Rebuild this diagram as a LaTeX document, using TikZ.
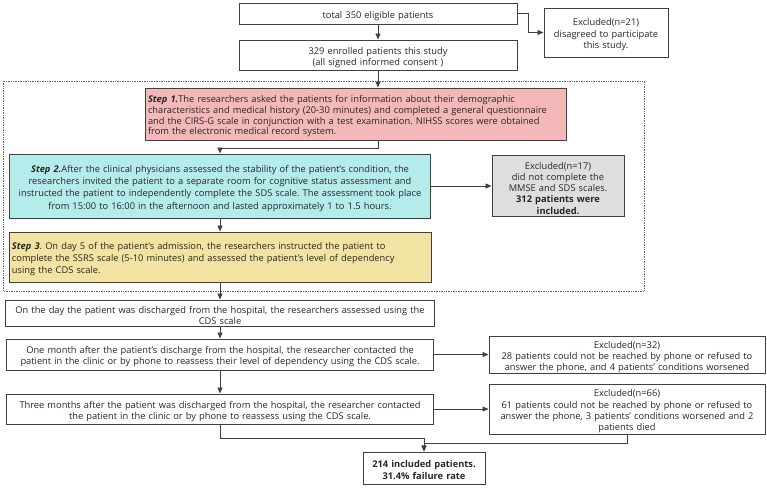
\documentclass[tikz,border=0pt]{standalone}
\usepackage{fontspec}
\setmainfont{Open Sans}
\usetikzlibrary{arrows.meta,positioning}
\definecolor{bordc}{RGB}{64,64,64}
\definecolor{pinkc}{RGB}{244,184,184}
\definecolor{cyanc}{RGB}{180,236,236}
\definecolor{yellc}{RGB}{242,227,162}
\definecolor{greyc}{RGB}{222,222,222}
\frenchspacing
\tikzset{
  bx/.style n args={2}{draw=bordc, line width=1pt, rectangle, inner xsep=3pt, inner ysep=0pt,
     text width=#1-6pt, minimum height=#2, align=center,
     font=\fontsize{9.3}{11.2}\selectfont, text=black!85,
     execute at begin node={\rule{0pt}{11.5pt}}},
  lbx/.style={align=left},
  conn/.style={draw=bordc, line width=0.9pt, -{Triangle[length=6pt,width=5pt]}},
}
\begin{document}
\begin{tikzpicture}[x=1pt,y=-1pt]
\useasboundingbox (0,0) rectangle (767,488);
% dotted frame
\draw[bordc!80, line width=0.7pt, densely dotted] (3,81) rectangle (644,291);
% nodes
\node[bx={278pt}{21pt}] (b1) at (378,13.5) {total 350 eligible patients};
\node[bx={278pt}{30pt}] (b2) at (378,55) {329 enrolled patients this study\\(all signed informed consent )};
\node[bx={124pt}{49pt}] (ex21) at (606,32.5) {Excluded(n=21)\\disagreed to participate\\this study.};
\node[bx={421pt}{52pt}, fill=pinkc, lbx, font=\fontsize{9.3}{10.9}\selectfont] (s1) at (355.5,114) {\textbf{\textit{Step 1.}}The researchers asked the patients for information about their demographic\\characteristics and medical history (20-30 minutes) and completed a general questionnaire\\and the CIRS-G scale in conjunction with a test examination. NIHSS scores were obtained\\from the electronic medical record system.};
\node[bx={421pt}{64pt}, fill=cyanc, font=\fontsize{9.3}{12.3}\selectfont] (s2) at (220,186) {\textbf{\textit{Step 2.}}After the clinical physicians assessed the stability of the patient's condition, the\\researchers invited the patient to a separate room for cognitive status assessment and\\instructed the patient to independently complete the SDS scale. The assessment took place\\from 15:00 to 16:00 in the afternoon and lasted approximately 1 to 1.5 hours.};
\node[bx={132pt}{61pt}, fill=greyc] (ex17) at (558,186) {Excluded(n=17)\\did not complete the\\MMSE and SDS scales.\\\textbf{312 patients were}\\\textbf{included.}};
\node[bx={422pt}{50pt}, fill=yellc, lbx, font=\fontsize{9.3}{12.3}\selectfont] (s3) at (220,257) {\textbf{\textit{Step 3}}. On day 5 of the patient's admission, the researchers instructed the patient to\\complete the SSRS scale (5-10 minutes) and assessed the patient's level of dependency\\using the CDS scale.};
\node[bx={429pt}{26pt}] (dis) at (220,313) {On the day the patient was discharged from the hospital, the researchers assessed using the\\CDS scale};
\node[bx={427pt}{31pt}] (one) at (220,354.5) {One month after the patient's discharge from the hospital, the researcher contacted the\\patient in the clinic or by phone to reassess their level of dependency using the CDS scale.};
\node[bx={427pt}{30pt}] (three) at (220,409) {Three months after the patient was discharged from the hospital, the researcher contacted\\the patient in the clinic or by phone to reassess using the CDS scale.};
\node[bx={276pt}{36pt}] (ex32) at (627,355) {Excluded(n=32)\\28 patients could not be reached by phone or refused to\\answer the phone, and 4 patients' conditions worsened};
\node[bx={276pt}{50pt}] (ex66) at (627,409) {Excluded(n=66)\\61 patients could not be reached by phone or refused to\\answer the phone, 3 patients' conditions worsened and 2\\patients died};
\node[bx={122pt}{32pt}, font=\fontsize{9.3}{11.8}\selectfont\bfseries] (fin) at (424,468) {214 included patients.\\31.4\% failure rate};
% connectors
\draw[conn] (b1) -- (b2);
\draw[conn] (b1.east) -- ++(11,0) |- (ex21.west);
\draw[conn] (b2.south) -- (b2.south |- s1.north);
\draw[conn] (s1.south -| b2.south) -- ++(0,8) -| (s2.north);
\draw[conn] (s2.east) -- (ex17.west);
\draw[conn] (s2) -- (s3);
\draw[conn] (s3) -- (dis);
\draw[conn] (dis) -- (one);
\draw[conn] (one) -- (three);
\draw[conn] (one.east) -- (one.east -| ex32.west);
\draw[conn] (three.east) -- (three.east -| ex66.west);
\draw[conn] (three.south) -- ++(0,14) -| (fin.north);
\draw[conn] (ex66.south) -- ++(0,9) -| (fin.north);
\end{tikzpicture}
\end{document}
